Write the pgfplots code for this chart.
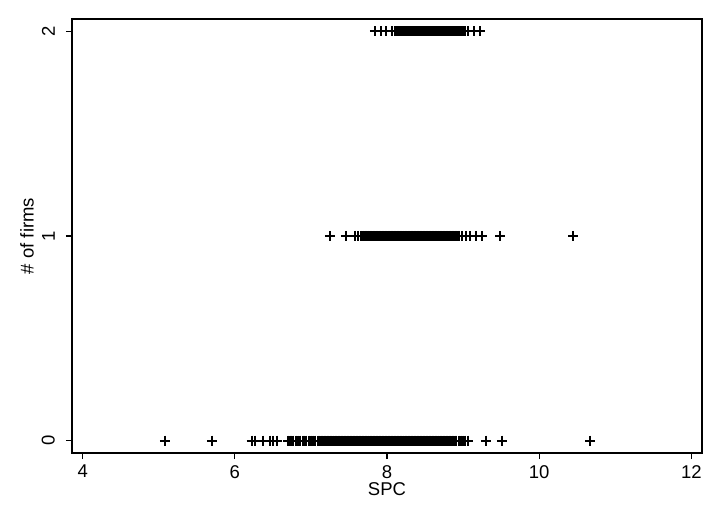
\documentclass[border=0pt]{standalone}
\usepackage{pgfplots}
\pgfplotsset{compat=1.18}
\usepackage{fontspec}
\setmainfont{Liberation Sans}
\begin{document}
\fontsize{18.5bp}{21bp}\selectfont
\begin{tikzpicture}
\begin{axis}[
  scale only axis, width=630bp, height=434bp,
  xmin=3.86, xmax=12.14, ymin=-0.06, ymax=2.06,
  xtick={4,6,8,10,12}, ytick={0,1,2},
  tick align=outside, xtick pos=bottom, ytick pos=left,
  major tick length=6bp,
  axis line style={line width=1.3bp},
  every tick/.style={black, line width=1.2bp},
  /pgf/number format/assume math mode=true,
  ticklabel style={font=\fontsize{18.5bp}{21bp}\selectfont},
  yticklabel style={rotate=90, anchor=south, inner sep=0pt, yshift=11bp},
  xticklabel style={inner sep=0pt, yshift=-6bp, anchor=north},
  xlabel={SPC}, ylabel={\# of firms},
  label style={font=\fontsize{18.5bp}{21bp}\selectfont},
  xlabel style={at={(axis description cs:0.5,0)}, anchor=north, yshift=-29bp, inner sep=0pt},
  ylabel style={at={(axis description cs:0,0.5)}, anchor=south, yshift=38bp, inner sep=0pt},
  clip=false,
]
\addplot[only marks, mark=+, mark size=5bp, black, line width=2bp] coordinates {
(5.08,0) (5.70,0) (6.22,0) (6.26,0) (6.37,0) (6.46,0) (6.50,0) (6.55,0)
(6.70,0) (6.72,0) (6.74,0) (6.77,0) (6.80,0) (6.83,0) (6.86,0) (6.89,0)
(6.91,0) (6.94,0) (6.97,0) (7.00,0) (7.03,0) (7.06,0)
(7.09,0) (7.11,0) (7.13,0) (7.15,0) (7.17,0) (7.19,0) (7.21,0) (7.23,0) (7.25,0) (7.27,0)
(7.29,0) (7.31,0) (7.33,0) (7.35,0) (7.37,0) (7.39,0) (7.41,0) (7.43,0) (7.45,0) (7.47,0)
(7.49,0) (7.51,0) (7.53,0) (7.55,0) (7.57,0) (7.59,0) (7.61,0) (7.63,0) (7.65,0) (7.67,0)
(7.69,0) (7.71,0) (7.73,0) (7.75,0) (7.77,0) (7.79,0) (7.81,0) (7.83,0) (7.85,0) (7.87,0)
(7.89,0) (7.91,0) (7.93,0) (7.95,0) (7.97,0) (7.99,0) (8.01,0) (8.03,0) (8.05,0) (8.07,0)
(8.09,0) (8.11,0) (8.13,0) (8.15,0) (8.17,0) (8.19,0) (8.21,0) (8.23,0) (8.25,0) (8.27,0)
(8.29,0) (8.31,0) (8.33,0) (8.35,0) (8.37,0) (8.39,0) (8.41,0) (8.43,0) (8.45,0) (8.47,0)
(8.49,0) (8.51,0) (8.53,0) (8.55,0) (8.57,0) (8.59,0) (8.61,0) (8.63,0) (8.65,0) (8.67,0)
(8.69,0) (8.71,0) (8.73,0) (8.75,0) (8.77,0) (8.79,0) (8.81,0) (8.83,0) (8.85,0) (8.87,0)
(8.89,0) (8.91,0) (8.94,0) (8.97,0) (9.00,0) (9.03,0) (9.06,0)
(9.30,0) (9.51,0) (10.67,0)
};
\addplot[only marks, mark=+, mark size=5bp, black, line width=2bp] coordinates {
(7.25,1) (7.46,1) (7.58,1) (7.62,1) (7.66,1)
(7.69,1) (7.71,1) (7.73,1) (7.75,1) (7.77,1) (7.79,1) (7.81,1) (7.83,1) (7.85,1) (7.87,1)
(7.89,1) (7.91,1) (7.93,1) (7.95,1) (7.97,1) (7.99,1) (8.01,1) (8.03,1) (8.05,1) (8.07,1)
(8.09,1) (8.11,1) (8.13,1) (8.15,1) (8.17,1) (8.19,1) (8.21,1) (8.23,1) (8.25,1) (8.27,1)
(8.29,1) (8.31,1) (8.33,1) (8.35,1) (8.37,1) (8.39,1) (8.41,1) (8.43,1) (8.45,1) (8.47,1)
(8.49,1) (8.51,1) (8.53,1) (8.55,1) (8.57,1) (8.59,1) (8.61,1) (8.63,1) (8.65,1) (8.67,1)
(8.69,1) (8.71,1) (8.73,1) (8.75,1) (8.77,1) (8.79,1) (8.81,1) (8.83,1) (8.85,1) (8.87,1)
(8.89,1) (8.91,1) (8.93,1) (8.95,1)
(8.99,1) (9.04,1) (9.09,1) (9.17,1) (9.25,1) (9.49,1) (10.45,1)
};
\addplot[only marks, mark=+, mark size=5bp, black, line width=2bp] coordinates {
(7.84,2) (7.92,2) (7.99,2) (8.07,2)
(8.11,2) (8.13,2) (8.15,2) (8.17,2) (8.19,2) (8.21,2) (8.23,2) (8.25,2) (8.27,2)
(8.29,2) (8.31,2) (8.33,2) (8.35,2) (8.37,2) (8.39,2) (8.41,2) (8.43,2) (8.45,2) (8.47,2)
(8.49,2) (8.51,2) (8.53,2) (8.55,2) (8.57,2) (8.59,2) (8.61,2) (8.63,2) (8.65,2) (8.67,2)
(8.69,2) (8.71,2) (8.73,2) (8.75,2) (8.77,2) (8.79,2) (8.81,2) (8.83,2) (8.85,2) (8.87,2)
(8.89,2) (8.91,2) (8.93,2) (8.95,2) (8.97,2) (8.99,2) (9.01,2) (9.03,2) (9.06,2)
(9.14,2) (9.22,2)
};
\end{axis}
\pgfresetboundingbox
\path (current axis.south west) ++(-72bp,-72bp) rectangle ++(723bp,525bp);
\end{tikzpicture}
\end{document}
